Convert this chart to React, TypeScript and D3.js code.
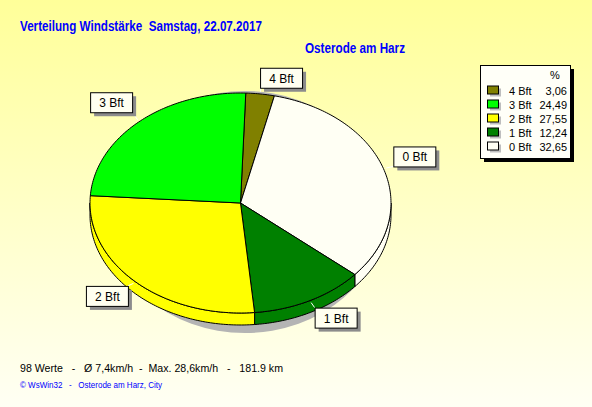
import React from 'react';
import * as d3 from 'd3';

const categories = ['0 Bft', '1 Bft', '2 Bft', '3 Bft', '4 Bft'];
const percents = [32.65, 12.24, 27.55, 24.49, 3.06];
const sliceColors = ['#FFFFF4', '#008000', '#FFFF00', '#00FF00', '#808000'];
const pieOrder = [4, 0, 1, 2, 3];
const legendOrder = [4, 3, 2, 1, 0];

const titleText = 'Verteilung Windstärke  Samstag, 22.07.2017';
const stationText = 'Osterode am Harz';
const footerText = '98 Werte   -   Ø 7,4km/h  -  Max. 28,6km/h   -   181.9 km';
const creditText = '© WsWin32   -   Osterode am Harz, City';

const W = 592;
const H = 407;
const cx = 240.5;
const cy = 203;
const rx = 150.5;
const ry = 110;
const depth = 12;
const startDeg = 2;

// per-label nudges (layout only)
const labelNudge: Record<string, [number, number]> = {
  '4 Bft': [-9.5, 2],
  '0 Bft': [-2, 4.5],
  '1 Bft': [-5.5, -2],
  '2 Bft': [3.5, -4.5],
  '3 Bft': [3.5, -1.5],
};

const pt = (t: number, k = 1, dy = 0): [number, number] => [
  cx + rx * k * Math.sin(t),
  cy - ry * k * Math.cos(t) + dy,
];

function topPath(a0: number, a1: number) {
  const n = Math.max(2, Math.ceil(((a1 - a0) * 180) / Math.PI));
  const pts: [number, number][] = [[cx, cy]];
  for (let i = 0; i <= n; i++) pts.push(pt(a0 + ((a1 - a0) * i) / n));
  return 'M' + pts.map((p) => p[0].toFixed(2) + ',' + p[1].toFixed(2)).join('L') + 'Z';
}

function sidePath(a0: number, a1: number) {
  const lo = Math.max(a0, Math.PI / 2);
  const hi = Math.min(a1, (3 * Math.PI) / 2);
  if (lo >= hi) return null;
  const n = Math.max(2, Math.ceil(((hi - lo) * 180) / Math.PI));
  const top: [number, number][] = [];
  const bot: [number, number][] = [];
  for (let i = 0; i <= n; i++) {
    const t = lo + ((hi - lo) * i) / n;
    top.push(pt(t));
    bot.push(pt(t, 1, depth));
  }
  const pts = top.concat(bot.reverse());
  return 'M' + pts.map((p) => p[0].toFixed(2) + ',' + p[1].toFixed(2)).join('L') + 'Z';
}

export default function App() {
  const data = pieOrder.map((i) => ({ name: categories[i], value: percents[i], color: sliceColors[i] }));
  const start = (startDeg * Math.PI) / 180;
  const arcs = d3
    .pie<any>()
    .sort(null)
    .value((d: any) => d.value)
    .startAngle(start)
    .endAngle(start + 2 * Math.PI)(data);

  const font = '"Liberation Sans", Arial, sans-serif';
  const boxW = 42;
  const boxH = 20;

  const labels = arcs.map((a) => {
    const mid = (a.startAngle + a.endAngle) / 2;
    const [ex, ey] = pt(mid, 1.02);
    const s = Math.sin(mid);
    const c = Math.cos(mid);
    const nx = labelNudge[a.data.name] || [0, 0];
    const bx = (s >= 0 ? ex + 9 : ex - 9 - boxW) + nx[0];
    const by = (c >= 0 ? ey - 6 - boxH : ey + 7) + nx[1];
    const cornerX = Math.max(bx, Math.min(bx + boxW, ex));
    const cornerY = Math.max(by, Math.min(by + boxH, ey));
    const tx = s >= 0 ? bx : bx + boxW;
    const ty = c >= 0 ? by + boxH : by;
    const inX = ex >= bx && ex <= bx + boxW;
    const inY = ey >= by && ey <= by + boxH;
    return {
      name: a.data.name,
      bx,
      by,
      ex,
      ey,
      cornerX: inX ? cornerX : inY ? tx : tx,
      cornerY: inY ? cornerY : ty,
    };
  });

  const legendX = 480;
  const legendY = 65;
  const legendW = 90;
  const legendH = 93;
  const rowY = d3.scaleLinear().domain([0, 4]).range([90.5, 146.5]);

  return (
    <svg
      width={W}
      height={H}
      style={{ position: 'absolute', left: 0, top: 0, display: 'block' }}
      fontFamily={font}
    >
      <defs>
        <linearGradient id="bg" x1="0" y1="0" x2="0" y2="1">
          <stop offset="0" stopColor="#FFFF99" />
          <stop offset="1" stopColor="#FFFFF4" />
        </linearGradient>
      </defs>
      <rect x={0} y={0} width={W} height={H} fill="url(#bg)" />

      <text x={20} y={31} fontSize={14} fontWeight="bold" fill="#0000FF" textLength={242} lengthAdjust="spacingAndGlyphs" style={{ whiteSpace: 'pre' }}>
        {titleText}
      </text>
      <text x={305} y={53} fontSize={14} fontWeight="bold" fill="#0000FF" textLength={100} lengthAdjust="spacingAndGlyphs">
        {stationText}
      </text>

      {/* pie shadow */}
      <ellipse cx={245} cy={212} rx={140} ry={121} fill="#B4B4B4" />

      {/* sides */}
      {arcs.map((a, i) => {
        const d = sidePath(a.startAngle, a.endAngle);
        return d ? <path key={'s' + i} d={d} fill={a.data.color} stroke="#000" strokeWidth={1} strokeLinejoin="round" /> : null;
      })}
      {/* tops */}
      {arcs.map((a, i) => (
        <path key={'t' + i} d={topPath(a.startAngle, a.endAngle)} fill={a.data.color} stroke="#000" strokeWidth={1} strokeLinejoin="round" />
      ))}

      {/* labels */}
      {labels.map((l) => (
        <g key={'l' + l.name}>
          <line x1={l.ex} y1={l.ey} x2={l.cornerX} y2={l.cornerY} stroke="#FFFFFF" strokeWidth={1} />
          <rect x={l.bx + 4} y={l.by + 4} width={boxW} height={boxH} fill="#8C8C8C" />
          <rect x={l.bx + 0.5} y={l.by + 0.5} width={boxW} height={boxH} fill="#FFFFF0" stroke="#000" strokeWidth={1} />
          <text x={l.bx + boxW / 2 + 0.5} y={l.by + 15} fontSize={12} textAnchor="middle" fill="#000">
            {l.name}
          </text>
        </g>
      ))}

      {/* legend */}
      <rect x={legendX + 4} y={legendY + 4} width={legendW} height={legendH} fill="#000" />
      <rect x={legendX + 0.5} y={legendY + 0.5} width={legendW} height={legendH} fill="#FFFFF8" stroke="#000" strokeWidth={1} />
      <text x={555} y={79} fontSize={11} textAnchor="middle" fill="#000">%</text>
      {legendOrder.map((idx, r) => {
        const yc = rowY(r);
        return (
          <g key={'lg' + idx}>
            <rect x={490} y={yc - 2} width={11} height={8} fill="#BEBEBE" />
            <rect x={487.5} y={yc - 4.5} width={11} height={8} fill={sliceColors[idx]} stroke="#000" strokeWidth={1} />
            <text x={509} y={yc + 4} fontSize={11} fill="#000">{categories[idx]}</text>
            <text x={567} y={yc + 4} fontSize={11} fill="#000" textAnchor="end">
              {d3.format('.2f')(percents[idx]).replace('.', ',')}
            </text>
          </g>
        );
      })}

      <text x={20} y={372} fontSize={11} fill="#000" textLength={263} lengthAdjust="spacingAndGlyphs" style={{ whiteSpace: 'pre' }}>
        {footerText}
      </text>
      <text x={20} y={388} fontSize={9} fill="#0000FF" textLength={142} lengthAdjust="spacingAndGlyphs" style={{ whiteSpace: 'pre' }}>
        {creditText}
      </text>
    </svg>
  );
}
